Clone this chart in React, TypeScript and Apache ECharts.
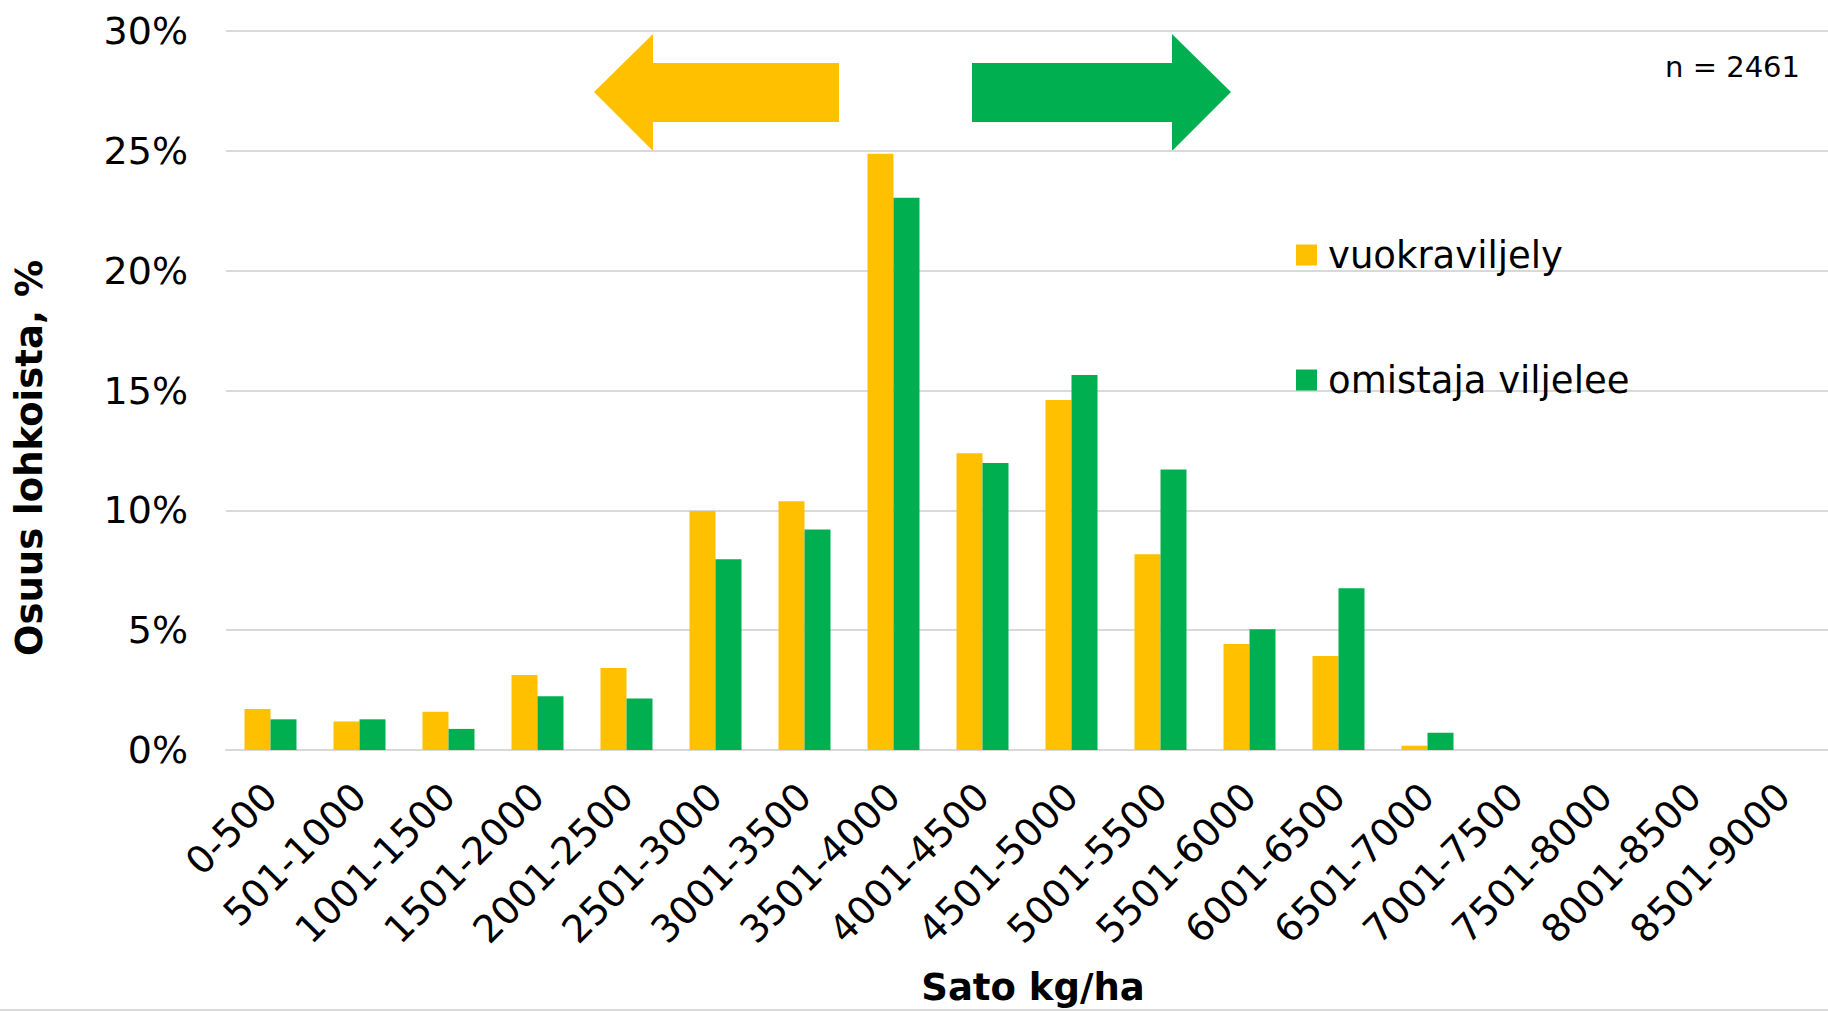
import React, { useEffect, useRef } from "react";
import * as echarts from "echarts";

const categories = [
  "0-500", "501-1000", "1001-1500", "1501-2000", "2001-2500", "2501-3000",
  "3001-3500", "3501-4000", "4001-4500", "4501-5000", "5001-5500", "5501-6000",
  "6001-6500", "6501-7000", "7001-7500", "7501-8000", "8001-8500", "8501-9000",
];
const vuokraviljely = [1.71, 1.19, 1.6, 3.13, 3.42, 9.97, 10.38, 24.88, 12.38, 14.6, 8.17, 4.42, 3.92, 0.18, 0, 0, 0, 0];
const omistajaViljelee = [1.28, 1.28, 0.88, 2.24, 2.15, 7.96, 9.2, 23.04, 11.97, 15.65, 11.7, 5.04, 6.75, 0.72, 0, 0, 0, 0];
const seriesNames = ["vuokraviljely", "omistaja viljelee"];
const yTicks = { min: 0, max: 30, interval: 5 };
const nText = "n = 2461";
const xName = "Sato kg/ha";
const yName = "Osuus lohkoista, %";

const YELLOW = "#FFC000";
const GREEN = "#00B050";
const GRID = "#D9D9D9";
const FONT = "DejaVu Sans";

export default function App() {
  const ref = useRef<HTMLDivElement>(null);
  useEffect(() => {
    if (!ref.current) return;
    const chart = echarts.init(ref.current, null, { renderer: "svg" });
    chart.setOption({
      animation: false,
      backgroundColor: "#fff",
      textStyle: { fontFamily: FONT },
      grid: { left: 226, right: 0, top: 31, bottom: 260, containLabel: false },
      legend: {
        orient: "vertical",
        left: 1291,
        top: 228,
        itemWidth: 21,
        itemHeight: 21,
        itemGap: 81,
        icon: "rect",
        data: seriesNames,
        textStyle: { fontFamily: FONT, fontSize: 37, color: "#000", lineHeight: 44, padding: [0, 0, 0, 6] },
      },
      xAxis: {
        type: "category",
        data: categories,
        name: xName,
        nameLocation: "middle",
        nameGap: 219,
        nameTextStyle: { fontFamily: FONT, fontSize: 37, fontWeight: "bold", color: "#000", padding: [0, 0, 0, 12] },
        axisLine: { lineStyle: { color: GRID, width: 2 } },
        axisTick: { show: false },
        axisLabel: { interval: 0, rotate: 45, fontSize: 38, color: "#000", margin: 40, fontFamily: FONT },
      },
      yAxis: {
        type: "value",
        min: yTicks.min,
        max: yTicks.max,
        interval: yTicks.interval,
        axisLine: { show: false },
        axisTick: { show: false },
        axisLabel: { formatter: "{value}%", fontSize: 38, color: "#000", margin: 38, fontFamily: FONT },
        splitLine: { lineStyle: { color: GRID, width: 2 } },
      },
      series: [
        { name: seriesNames[0], type: "bar", data: vuokraviljely, barWidth: 26, barGap: "0%", itemStyle: { color: YELLOW } },
        { name: seriesNames[1], type: "bar", data: omistajaViljelee, barWidth: 26, barGap: "0%", itemStyle: { color: GREEN } },
      ],
      graphic: [
        {
          type: "polygon",
          shape: { points: [[594, 92], [653, 34], [653, 63], [839, 63], [839, 122], [653, 122], [653, 151]] },
          style: { fill: YELLOW },
        },
        {
          type: "polygon",
          shape: { points: [[1231, 92], [1172, 34], [1172, 63], [972, 63], [972, 122], [1172, 122], [1172, 151]] },
          style: { fill: GREEN },
        },
        {
          type: "text",
          x: 29,
          y: 458,
          rotation: Math.PI / 2,
          style: {
            text: yName,
            fontFamily: FONT,
            fontSize: 37,
            fontWeight: "bold",
            fill: "#000",
            textAlign: "center",
            textVerticalAlign: "middle",
          },
        },
        {
          type: "text",
          right: 28,
          top: 52,
          style: { text: nText, fontFamily: FONT, fontSize: 29, fill: "#000" },
        },
        {
          type: "line",
          shape: { x1: 0, y1: 1010, x2: 1828, y2: 1010 },
          style: { stroke: GRID, lineWidth: 2 },
        },
      ],
    });
    return () => chart.dispose();
  }, []);
  return <div ref={ref} style={{ position: "fixed", left: 0, top: 0, width: 1828, height: 1011 }} />;
}
